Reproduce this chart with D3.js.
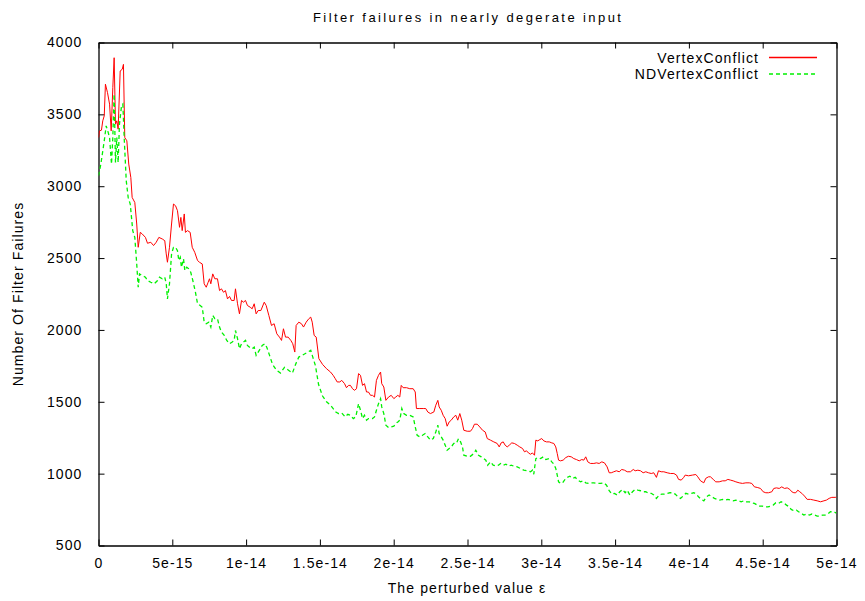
<!DOCTYPE html>
<html lang="en">
<head>
<meta charset="UTF-8">
<title>Filter failures in nearly degerate input</title>
<style>
    body { margin: 0; background: #fff; }
    svg text { font-family: "Liberation Sans", Arial, sans-serif; font-size: 14px; letter-spacing: 1.1px; fill: #000; }
</style>
<script src="https://d3js.org/d3.v7.min.js"></script>
</head>
<body>
<div id="chart"></div>
<script>
// epsilon given in units of 1e-15, failures count
const xTickValues = [0, 5, 10, 15, 20, 25, 30, 35, 40, 45, 50];
const xTickLabels = ["0", "5e-15", "1e-14", "1.5e-14", "2e-14", "2.5e-14", "3e-14", "3.5e-14", "4e-14", "4.5e-14", "5e-14"];
const yTickValues = [500, 1000, 1500, 2000, 2500, 3000, 3500, 4000];
const seriesNames = ["VertexConflict", "NDVertexConflict"];

const vertexConflict = [
    [0,3339],[0.07,3385],[0.2,3390],[0.29,3455],[0.39,3490],[0.47,3710],[0.61,3651],[0.75,3571],[0.86,3385],
    [0.97,3686],[1.06,3894],[1.15,3432],[1.24,3455],[1.33,3397],[1.47,3802],[1.61,3814],[1.69,3848],[1.78,3339],
    [1.92,3316],[2.05,3154],[2.19,3061],[2.28,2922],[2.46,2887],[2.59,2737],[2.69,2575],[2.83,2679],[2.96,2668],
    [3.18,2644],[3.32,2603],[3.54,2610],[3.73,2587],[3.91,2610],[4.09,2644],[4.32,2633],[4.49,2621],[4.59,2529],
    [4.67,2471],[4.81,2575],[4.95,2737],[5.08,2876],[5.22,2864],[5.35,2830],[5.49,2714],[5.58,2783],[5.67,2691],
    [5.81,2807],[5.89,2679],[6.03,2691],[6.21,2679],[6.35,2575],[6.52,2540],[6.71,2483],[6.84,2471],[7.03,2459],
    [7.16,2321],[7.3,2297],[7.43,2332],[7.52,2356],[7.61,2321],[7.74,2390],[7.88,2356],[8.06,2356],[8.2,2274],
    [8.33,2286],[8.47,2262],[8.6,2274],[8.74,2216],[8.88,2233],[9.01,2205],[9.19,2205],[9.28,2286],[9.42,2182],
    [9.55,2112],[9.69,2205],[9.82,2193],[9.96,2205],[10.09,2170],[10.28,2158],[10.41,2147],[10.55,2182],[10.68,2112],
    [10.82,2135],[11,2135],[11.23,2193],[11.36,2170],[11.54,2101],[11.72,2031],[11.9,2043],[12.08,1973],[12.26,1950],
    [12.4,1927],[12.53,2008],[12.67,1950],[12.85,1950],[13.03,1927],[13.16,1904],[13.3,1846],[13.39,2031],[13.57,2054],
    [13.75,2043],[13.89,2020],[14.07,2054],[14.25,2078],[14.38,2089],[14.48,2054],[14.61,1962],[14.75,1950],[14.93,1800],
    [15.18,1760],[15.45,1730],[15.72,1707],[15.9,1684],[16.04,1661],[16.17,1638],[16.35,1638],[16.48,1649],[16.67,1626],
    [16.8,1598],[16.94,1614],[17.07,1614],[17.21,1591],[17.34,1580],[17.48,1591],[17.62,1696],[17.75,1684],[17.89,1614],
    [18.02,1626],[18.16,1568],[18.29,1568],[18.43,1545],[18.56,1545],[18.7,1533],[18.83,1649],[18.97,1684],[19.11,1707],
    [19.19,1626],[19.33,1603],[19.47,1510],[19.65,1533],[19.83,1545],[20.01,1522],[20.14,1533],[20.28,1545],[20.41,1533],
    [20.51,1614],[20.64,1598],[20.87,1598],[21.09,1591],[21.32,1591],[21.46,1568],[21.54,1453],[21.77,1453],[22,1453],
    [22.17,1453],[22.31,1429],[22.49,1418],[22.72,1429],[22.85,1476],[22.99,1510],[23.08,1464],[23.22,1441],[23.35,1406],
    [23.49,1383],[23.62,1330],[23.76,1360],[23.9,1372],[24.07,1395],[24.21,1406],[24.34,1372],[24.48,1418],[24.61,1372],
    [24.75,1302],[24.98,1295],[25.2,1295],[25.34,1314],[25.47,1344],[25.66,1344],[25.83,1325],[26.02,1302],[26.2,1290],
    [26.34,1244],[26.56,1233],[26.78,1221],[27.01,1210],[27.15,1186],[27.28,1214],[27.42,1221],[27.55,1198],[27.69,1186],
    [27.83,1198],[28,1214],[28.18,1210],[28.37,1198],[28.54,1186],[28.73,1175],[28.86,1152],[29,1159],[29.13,1144],
    [29.27,1135],[29.4,1144],[29.54,1128],[29.63,1233],[29.76,1228],[29.9,1237],[30.03,1244],[30.17,1228],[30.35,1221],
    [30.54,1221],[30.71,1214],[30.85,1210],[30.98,1186],[31.08,1140],[31.17,1094],[31.3,1089],[31.48,1094],[31.66,1112],
    [31.84,1121],[32.03,1117],[32.2,1105],[32.38,1098],[32.57,1089],[32.74,1098],[32.88,1094],[33.01,1117],[33.15,1082],
    [33.33,1071],[33.56,1071],[33.74,1075],[33.92,1071],[34.1,1082],[34.28,1075],[34.46,1047],[34.6,1006],[34.74,1006],
    [34.91,1013],[35.09,1020],[35.28,1013],[35.45,1029],[35.64,1024],[35.82,1013],[36.04,1013],[36.23,1029],[36.36,1020],
    [36.54,1024],[36.72,1020],[36.9,1006],[37.08,1013],[37.26,1006],[37.45,1001],[37.62,1006],[37.8,974],[37.94,1020],
    [38.12,1013],[38.3,1013],[38.53,1006],[38.75,1001],[38.98,1001],[39.16,990],[39.3,960],[39.48,955],[39.65,974],
    [39.75,990],[39.97,985],[40.24,990],[40.47,994],[40.6,978],[40.79,950],[41.01,936],[41.14,967],[41.33,978],
    [41.46,978],[41.65,960],[41.82,943],[42.05,943],[42.28,950],[42.46,950],[42.64,960],[42.82,955],[43,950],
    [43.18,943],[43.41,936],[43.63,932],[43.86,936],[44.09,936],[44.26,932],[44.44,908],[44.63,904],[44.85,897],
    [45.03,874],[45.21,867],[45.39,867],[45.62,874],[45.75,897],[45.93,901],[46.12,897],[46.29,908],[46.48,897],
    [46.66,901],[46.84,890],[46.97,874],[47.11,867],[47.24,867],[47.38,885],[47.51,874],[47.65,863],[47.83,844],
    [48.01,821],[48.24,821],[48.46,816],[48.69,811],[48.92,804],[49.15,811],[49.32,816],[49.5,828],[49.68,835],
    [49.91,835],[50,836]
];

const ndVertexConflict = [
    [0,3073],[0.16,3154],[0.39,3316],[0.52,3420],[0.66,3373],[0.75,3339],[0.88,3154],[0.97,3339],[1.06,3640],
    [1.15,3165],[1.24,3339],[1.33,3165],[1.42,3432],[1.56,3559],[1.65,3571],[1.74,3339],[1.88,3038],[2.01,2922],
    [2.15,2876],[2.32,2691],[2.46,2644],[2.59,2459],[2.69,2297],[2.78,2390],[2.96,2378],[3.18,2367],[3.32,2344],
    [3.54,2332],[3.77,2321],[4,2344],[4.13,2367],[4.32,2356],[4.49,2367],[4.59,2321],[4.67,2216],[4.81,2321],
    [4.95,2529],[5.08,2575],[5.22,2575],[5.35,2552],[5.44,2483],[5.54,2505],[5.62,2436],[5.76,2494],[5.85,2413],
    [5.98,2436],[6.12,2425],[6.25,2401],[6.39,2344],[6.57,2262],[6.71,2182],[6.89,2170],[7.03,2158],[7.16,2054],
    [7.3,2043],[7.47,2054],[7.61,2020],[7.74,2101],[7.88,2078],[8.06,2078],[8.2,2020],[8.33,1985],[8.52,1962],
    [8.69,1927],[8.88,1904],[9.06,1916],[9.19,1927],[9.28,1996],[9.42,1939],[9.55,1869],[9.69,1904],[9.82,1916],
    [9.96,1927],[10.09,1892],[10.23,1880],[10.41,1869],[10.55,1880],[10.68,1823],[10.82,1846],[10.96,1869],[11.09,1892],
    [11.27,1904],[11.4,1880],[11.59,1823],[11.79,1760],[12.06,1720],[12.33,1700],[12.6,1740],[12.87,1720],[13.14,1700],
    [13.35,1760],[13.57,1811],[13.8,1823],[14.09,1840],[14.38,1858],[14.52,1811],[14.7,1750],[14.91,1620],[15.18,1540],
    [15.45,1500],[15.72,1476],[15.9,1453],[16.08,1429],[16.26,1418],[16.48,1422],[16.71,1395],[16.89,1413],[17.07,1406],
    [17.26,1383],[17.43,1395],[17.62,1487],[17.75,1441],[17.89,1383],[18.02,1406],[18.16,1372],[18.29,1383],[18.43,1383],
    [18.56,1383],[18.7,1395],[18.83,1441],[18.97,1487],[19.11,1522],[19.19,1464],[19.33,1418],[19.47,1337],[19.65,1321],
    [19.83,1325],[20.01,1330],[20.14,1349],[20.28,1360],[20.41,1372],[20.55,1453],[20.68,1418],[20.87,1406],[21.09,1406],
    [21.32,1395],[21.46,1325],[21.59,1267],[21.77,1256],[21.95,1267],[22.13,1279],[22.31,1256],[22.49,1233],[22.68,1244],
    [22.85,1290],[22.99,1337],[23.08,1279],[23.22,1256],[23.35,1233],[23.49,1198],[23.62,1163],[23.76,1175],[23.9,1186],
    [24.07,1210],[24.25,1210],[24.39,1244],[24.53,1221],[24.66,1186],[24.75,1128],[24.98,1121],[25.2,1121],[25.43,1140],
    [25.56,1163],[25.75,1128],[25.93,1117],[26.1,1105],[26.24,1094],[26.37,1059],[26.56,1082],[26.74,1059],[26.92,1054],
    [27.1,1059],[27.24,1071],[27.42,1059],[27.6,1066],[27.78,1052],[27.96,1059],[28.14,1052],[28.37,1047],[28.59,1036],
    [28.81,1024],[29.04,1020],[29.27,1013],[29.4,1024],[29.49,996],[29.63,1105],[29.76,1112],[29.95,1105],[30.13,1117],
    [30.31,1098],[30.54,1105],[30.71,1082],[30.85,1066],[30.98,1036],[31.08,990],[31.17,943],[31.3,932],[31.44,936],
    [31.57,955],[31.75,974],[31.93,982],[32.11,967],[32.3,974],[32.47,955],[32.66,943],[32.84,950],[33.01,936],
    [33.2,932],[33.38,936],[33.56,936],[33.79,932],[34.01,932],[34.23,936],[34.42,920],[34.6,881],[34.78,858],
    [34.96,863],[35.14,851],[35.32,874],[35.5,890],[35.68,867],[35.82,885],[36,851],[36.18,874],[36.36,890],
    [36.54,885],[36.72,881],[36.9,874],[37.08,874],[37.26,863],[37.45,863],[37.62,851],[37.8,828],[37.99,851],
    [38.16,858],[38.35,858],[38.53,863],[38.71,867],[38.89,867],[39.07,858],[39.25,839],[39.43,828],[39.61,844],
    [39.79,863],[39.97,858],[40.16,863],[40.33,867],[40.51,858],[40.65,839],[40.83,821],[41.01,811],[41.19,839],
    [41.37,851],[41.55,839],[41.73,828],[41.92,821],[42.09,816],[42.28,821],[42.46,816],[42.64,821],[42.82,816],
    [43,811],[43.18,816],[43.36,811],[43.54,804],[43.72,811],[43.9,804],[44.09,804],[44.26,797],[44.44,793],
    [44.63,781],[44.8,774],[44.99,774],[45.17,769],[45.35,769],[45.53,774],[45.71,781],[45.89,797],[46.07,793],
    [46.25,804],[46.43,797],[46.61,781],[46.8,769],[46.93,751],[47.11,742],[47.29,746],[47.43,735],[47.61,724],
    [47.79,712],[47.97,719],[48.16,712],[48.33,719],[48.51,712],[48.69,705],[48.87,705],[49.05,712],[49.23,712],
    [49.41,719],[49.59,735],[49.78,735],[49.95,728],[50,728]
];

const width = 865, height = 601;
const margin = { top: 42.5, right: 28.5, bottom: 55.5, left: 98.5 };
const plotW = width - margin.left - margin.right;
const plotH = height - margin.top - margin.bottom;

const svg = d3.select("#chart").append("svg")
    .attr("width", width)
    .attr("height", height);

const x = d3.scaleLinear().domain([0, 50]).range([margin.left, margin.left + plotW]);
const y = d3.scaleLinear().domain([500, 4000]).range([margin.top + plotH, margin.top]);

// clip so lines stay inside the frame
svg.append("clipPath").attr("id", "clip")
    .append("rect")
    .attr("x", margin.left).attr("y", margin.top)
    .attr("width", plotW).attr("height", plotH);

// Axes: ticks point inward, mirrored on top and right like gnuplot
const tickLen = 6;
const xLabel = (d, i) => xTickLabels[i];

svg.append("g")
    .attr("transform", `translate(0,${margin.top + plotH})`)
    .call(d3.axisBottom(x).tickValues(xTickValues).tickFormat(xLabel).tickSize(-tickLen).tickSizeOuter(0).tickPadding(13));

svg.append("g")
    .attr("transform", `translate(0,${margin.top})`)
    .call(d3.axisTop(x).tickValues(xTickValues).tickFormat("").tickSize(-tickLen).tickSizeOuter(0));

svg.append("g")
    .attr("transform", `translate(${margin.left},0)`)
    .call(d3.axisLeft(y).tickValues(yTickValues).tickFormat(d3.format("d")).tickSize(-tickLen).tickSizeOuter(0).tickPadding(16));

svg.append("g")
    .attr("transform", `translate(${margin.left + plotW},0)`)
    .call(d3.axisRight(y).tickValues(yTickValues).tickFormat("").tickSize(-tickLen).tickSizeOuter(0));

svg.selectAll(".domain").attr("stroke", "#000").attr("stroke-width", 1.3);
svg.selectAll(".tick line").attr("stroke", "#000").attr("stroke-width", 1);
svg.selectAll(".tick text")
    .style("font-family", "'Liberation Sans', Arial, sans-serif")
    .style("font-size", "14px");

// Title and axis labels
svg.append("text")
    .attr("x", 313).attr("y", 22)
    .attr("textLength", 309)
    .attr("lengthAdjust", "spacing")
    .style("font-size", "13px")
    .text("Filter failures in nearly degerate input");

svg.append("text")
    .attr("x", 467).attr("y", 593)
    .attr("text-anchor", "middle")
    .text("The perturbed value \u03b5");

svg.append("text")
    .attr("transform", "translate(23,294) rotate(-90)")
    .attr("text-anchor", "middle")
    .text("Number Of Filter Failures");

// Lines
const line = d3.line().x(d => x(d[0])).y(d => y(d[1]));

svg.append("path")
    .datum(vertexConflict)
    .attr("clip-path", "url(#clip)")
    .attr("fill", "none")
    .attr("stroke", "#ff0000")
    .attr("stroke-width", 1)
    .attr("d", line);

svg.append("path")
    .datum(ndVertexConflict)
    .attr("clip-path", "url(#clip)")
    .attr("fill", "none")
    .attr("stroke", "#00f000")
    .attr("stroke-width", 1.3)
    .attr("stroke-dasharray", "4,3")
    .attr("d", line);

// Legend
const legend = svg.append("g");
const legendColors = ["#ff0000", "#00f000"];
const legendDash = [null, "4,3"];
seriesNames.forEach((name, i) => {
    const ly = 57.5 + i * 16.5;
    legend.append("text")
        .attr("x", 759).attr("y", ly + 5)
        .attr("text-anchor", "end")
        .text(name);
    legend.append("line")
        .attr("x1", 769).attr("x2", 817)
        .attr("y1", ly).attr("y2", ly)
        .attr("stroke", legendColors[i])
        .attr("stroke-width", 1.3)
        .attr("stroke-dasharray", legendDash[i]);
});
</script>
</body>
</html>
